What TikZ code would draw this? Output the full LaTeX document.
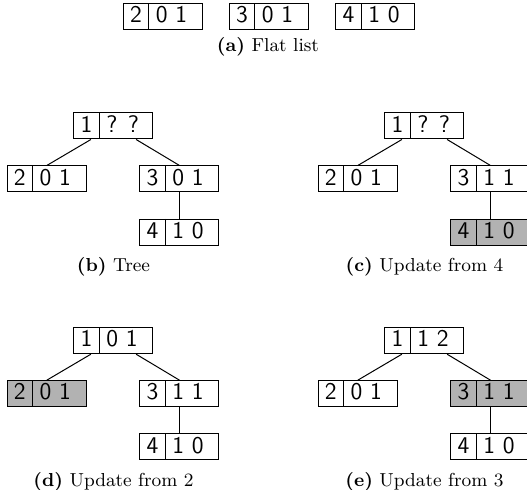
\documentclass[tikz,border=0pt]{standalone}
\begin{document}
\begin{tikzpicture}[x=0.5pt,y=-0.5pt,
  kvframe/.style={draw,line width=0.5pt,minimum width=39.5pt,minimum height=13pt,inner sep=0pt},
  kvline/.style={line width=0.5pt},
  keytext/.style={inner sep=0pt,text height=1.55ex,text depth=0.15ex,font=\fontsize{12}{14}\sffamily},
  valtext/.style={inner xsep=3.2pt,inner ysep=0pt,anchor=west,text height=1.55ex,text depth=0.15ex,font=\fontsize{12}{14}\sffamily},
  hl/.style={fill=black!30},
  edge/.style={line width=0.5pt},
  subcap/.style={anchor=base,inner sep=0pt,font=\fontsize{9.4}{11}\selectfont}]
\newcommand\kvbox[5][]{%
  \node[kvframe,#1] (#2) at #3 {};
  \draw[kvline] ([xshift=13pt]#2.north west) -- ([xshift=13pt]#2.south west);
  \node[keytext] (#2-k) at ([xshift=6.5pt]#2.west) {#4};
  \node[valtext] (#2-v) at ([xshift=13pt]#2.west) {#5};
}
\useasboundingbox (0,0) rectangle (527,490);
\clip (0,0) rectangle (527,490);

% (a) flat list
\kvbox{a1}{(163,16.8)}{2}{0 1}
\kvbox{a2}{(269,16.8)}{3}{0 1}
\kvbox{a3}{(375.5,16.8)}{4}{1 0}
\node[subcap] (capa) at (268,52) {\textbf{(a)} Flat list};

% (b) tree
\kvbox{br}{(113.5,126)}{1}{? ?}
\kvbox{bl}{(46.8,179)}{2}{0 1}
\kvbox{bR}{(179.5,179)}{3}{0 1}
\kvbox{bg}{(179.5,232.3)}{4}{1 0}
\draw[edge] ([xshift=-11.3pt]br.south) -- (bl.north);
\draw[edge] ([xshift=11.3pt]br.south) -- (bR.north);
\draw[edge] (bR.south) -- (bg.north);
\node[subcap] (capb) at (113.5,271.5) {\textbf{(b)} Tree};

% (c) update from 4
\kvbox{cr}{(424.5,126)}{1}{? ?}
\kvbox{cl}{(357.8,179)}{2}{0 1}
\kvbox{cR}{(490.5,179)}{3}{1 1}
\kvbox[hl]{cg}{(490.5,232.3)}{4}{1 0}
\draw[edge] ([xshift=-11.3pt]cr.south) -- (cl.north);
\draw[edge] ([xshift=11.3pt]cr.south) -- (cR.north);
\draw[edge] (cR.south) -- (cg.north);
\node[subcap] (capc) at (424.5,271.5) {\textbf{(c)} Update from 4};

% (d) update from 2
\kvbox{dr}{(113.5,340.7)}{1}{0 1}
\kvbox[hl]{dl}{(46.8,393.7)}{2}{0 1}
\kvbox{dR}{(179.5,393.7)}{3}{1 1}
\kvbox{dg}{(179.5,447)}{4}{1 0}
\draw[edge] ([xshift=-11.3pt]dr.south) -- (dl.north);
\draw[edge] ([xshift=11.3pt]dr.south) -- (dR.north);
\draw[edge] (dR.south) -- (dg.north);
\node[subcap] (capd) at (113.5,486.2) {\textbf{(d)} Update from 2};

% (e) update from 3
\kvbox{er}{(424.5,340.7)}{1}{1 2}
\kvbox{el}{(357.8,393.7)}{2}{0 1}
\kvbox[hl]{eR}{(490.5,393.7)}{3}{1 1}
\kvbox{eg}{(490.5,447)}{4}{1 0}
\draw[edge] ([xshift=-11.3pt]er.south) -- (el.north);
\draw[edge] ([xshift=11.3pt]er.south) -- (eR.north);
\draw[edge] (eR.south) -- (eg.north);
\node[subcap] (cape) at (424.5,486.2) {\textbf{(e)} Update from 3};
\end{tikzpicture}
\end{document}
